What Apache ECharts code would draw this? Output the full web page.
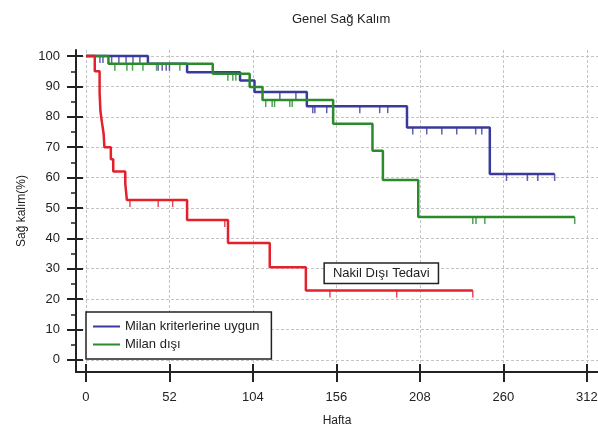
<!DOCTYPE html>
<html>
<head>
<meta charset="utf-8">
<script src="https://cdn.jsdelivr.net/npm/echarts@6/dist/echarts.min.js"></script>
<style>
  html, body { margin: 0; padding: 0; background: #fff; }
  #chart { width: 598px; height: 427px; }
</style>
</head>
<body>
<div id="chart"></div>
<script>
// Axis ticks
const weekTicks = [0, 52, 104, 156, 208, 260, 312];
const percentTicks = [0, 10, 20, 30, 40, 50, 60, 70, 80, 90, 100];
const percentMinorTicks = [5, 15, 25, 35, 45, 55, 65, 75, 85, 95];

// Milan kriterlerine uygun: event times (weeks) and survival (%)
const milanInTimes = [0, 38.6, 63, 96, 105, 137.6, 200, 251.6, 292];
const milanInSurv = [100, 97.5, 94.7, 92, 88.2, 83.5, 76.5, 61.2, 61.2];
const milanInCensored = [8.7, 10.6, 16, 20.5, 25, 29.3, 33.6, 45, 47.5, 50, 52,
  120.8, 130.8, 141.3, 142.6, 150, 170.6, 183, 188, 203.6, 212.3, 221.7, 231,
  242.8, 246.6, 262, 275, 281.5, 292];

// Milan dışı
const milanOutTimes = [0, 14, 79, 102, 110, 154, 178.5, 185, 207, 304.5];
const milanOutSurv = [100, 97.5, 94.2, 89.8, 85.5, 77.7, 68.8, 59.2, 47, 47];
const milanOutCensored = [5.5, 18, 25.5, 29, 35.5, 44, 58.5, 88.4, 91.5, 93.4,
  112, 116, 117.5, 127, 128.5, 241, 243, 248.5, 304.5];

// Nakil dışı tedavi
const nonTxTimes = [0, 5.5, 8.5, 9, 10, 11, 11.5, 15.5, 17, 24.5, 25.5, 63, 88.5, 114.5, 137, 241];
const nonTxSurv = [100, 95, 88, 82, 78, 74.5, 70, 66, 62, 58, 52.6, 46, 38.5, 30.5, 22.8, 22.8];
const nonTxCensored = [27.4, 45, 54, 86.5, 152, 193.6, 241];

const BLUE = '#3a3a9c';
const GREEN = '#2b8a2b';
const RED = '#e3202b';
const INK = '#222';

function survivalAt(times, surv, t) {
  let v = surv[0];
  for (let i = 0; i < times.length; i++) {
    if (times[i] <= t) v = surv[i];
  }
  return v;
}

function curve(times, surv) {
  return times.map((t, i) => [t, surv[i]]);
}

function censorMarks(times, surv, censored) {
  return censored.map(t => [t, survivalAt(times, surv, t)]);
}

function stepSeries(name, color, times, surv, z) {
  return {
    name: name,
    type: 'line',
    step: 'end',
    data: curve(times, surv),
    showSymbol: false,
    symbol: 'none',
    color: color,
    lineStyle: { color: color, width: 2.5 },
    z: z,
    animation: false
  };
}

function censorSeries(color, times, surv, censored, z) {
  return {
    type: 'scatter',
    data: censorMarks(times, surv, censored),
    symbol: 'rect',
    symbolSize: [1.5, 7],
    symbolOffset: [0, 3.5],
    itemStyle: { color: color },
    silent: true,
    z: z,
    animation: false
  };
}

const chart = echarts.init(document.getElementById('chart'), null, { renderer: 'canvas' });

const labelFont = { fontFamily: 'Liberation Sans, Arial, sans-serif', fontSize: 13, color: INK };
const gridLine = { show: true, lineStyle: { color: '#c4c4c4', width: 1, type: [3, 2] } };

const redSeries = stepSeries('Nakil Dışı Tedavi', RED, nonTxTimes, nonTxSurv, 5);
redSeries.markPoint = {
  symbol: 'rect',
  symbolSize: 0,
  silent: true,
  data: [{ coord: [184, 28.5] }],
  label: {
    show: true,
    position: 'inside',
    formatter: 'Nakil Dışı Tedavi',
    backgroundColor: '#fff',
    borderColor: INK,
    borderWidth: 1.5,
    padding: [3, 8],
    ...labelFont
  }
};

chart.setOption({
  backgroundColor: '#fff',
  animation: false,
  title: {
    text: 'Genel Sağ Kalım',
    left: 287,
    top: 8,
    textStyle: { ...labelFont, fontWeight: 'normal' }
  },
  grid: { left: 76, right: 0, top: 50, bottom: 55, containLabel: false, outerBoundsMode: 'none' },
  legend: {
    data: ['Milan kriterlerine uygun', 'Milan dışı'],
    orient: 'vertical',
    left: 86,
    top: 312,
    icon: 'rect',
    itemWidth: 27,
    itemHeight: 2,
    itemGap: 5,
    padding: [8, 12, 8, 7],
    borderColor: INK,
    borderWidth: 1.5,
    backgroundColor: '#fff',
    textStyle: { ...labelFont },
    z: 10
  },
  xAxis: [
    {
      type: 'value',
      min: -6.2,
      max: 319,
      position: 'bottom',
      name: 'Hafta',
      nameLocation: 'middle',
      nameGap: 43,
      nameTextStyle: { ...labelFont, fontSize: 12 },
      axisLine: { show: true, onZero: false, lineStyle: { color: INK, width: 2 } },
      axisTick: { show: true, customValues: weekTicks, length: 10, lineStyle: { color: INK, width: 2 } },
      axisLabel: { show: true, customValues: weekTicks, margin: 19, ...labelFont },
      splitLine: gridLine
    },
    {
      type: 'value',
      min: -6.2,
      max: 319,
      position: 'bottom',
      axisLine: { show: false, onZero: false },
      axisTick: { show: true, inside: true, customValues: weekTicks, length: 8, lineStyle: { color: INK, width: 2 } },
      axisLabel: { show: false },
      splitLine: { show: false }
    }
  ],
  yAxis: [
    {
      type: 'value',
      min: -4,
      max: 102,
      position: 'left',
      name: 'Sağ kalım(%)',
      nameLocation: 'middle',
      nameGap: 48,
      nameTextStyle: { ...labelFont, fontSize: 12 },
      axisLine: { show: true, onZero: false, lineStyle: { color: INK, width: 2 } },
      axisTick: { show: true, customValues: percentTicks, length: 9, lineStyle: { color: INK, width: 2 } },
      axisLabel: { show: true, customValues: percentTicks, margin: 16, ...labelFont },
      splitLine: gridLine
    },
    {
      type: 'value',
      min: -4,
      max: 102,
      position: 'left',
      axisLine: { show: false, onZero: false },
      axisTick: { show: true, inside: true, customValues: percentTicks, length: 7, lineStyle: { color: INK, width: 2 } },
      axisLabel: { show: false },
      splitLine: { show: false }
    },
    {
      type: 'value',
      min: -4,
      max: 102,
      position: 'left',
      axisLine: { show: false, onZero: false },
      axisTick: { show: true, customValues: percentMinorTicks, length: 5, lineStyle: { color: INK, width: 1.5 } },
      axisLabel: { show: false },
      splitLine: { show: false }
    }
  ],
  series: [
    stepSeries('Milan kriterlerine uygun', BLUE, milanInTimes, milanInSurv, 3),
    stepSeries('Milan dışı', GREEN, milanOutTimes, milanOutSurv, 4),
    redSeries,
    censorSeries(BLUE, milanInTimes, milanInSurv, milanInCensored, 3),
    censorSeries(GREEN, milanOutTimes, milanOutSurv, milanOutCensored, 4),
    censorSeries(RED, nonTxTimes, nonTxSurv, nonTxCensored, 5)
  ]
});
</script>
</body>
</html>
